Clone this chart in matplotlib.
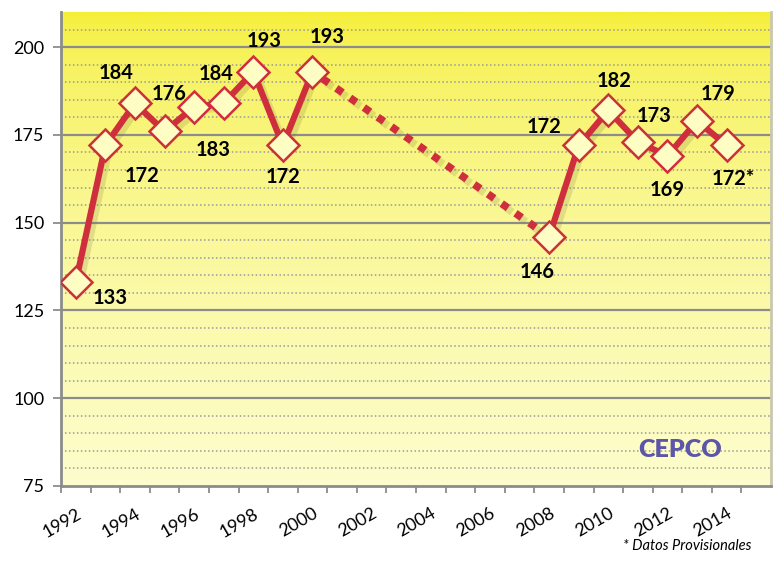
import numpy as np
import matplotlib.pyplot as plt
import matplotlib.patheffects as pe

# datos
years = list(range(1992, 2016))
year_labels = [str(y) if y % 2 == 0 else '' for y in years]
pts_a_years = [1992, 1993, 1994, 1995, 1996, 1997, 1998, 1999, 2000]
pts_a_vals = [133, 172, 184, 176, 183, 184, 193, 172, 193]
pts_b_years = [2008, 2009, 2010, 2011, 2012, 2013, 2014]
pts_b_vals = [146, 172, 182, 173, 169, 179, 172]
labels_a = ['133', '172', '184', '176', '183', '184', '193', '172', '193']
labels_b = ['146', '172', '182', '173', '169', '179', '172*']

# desplazamiento de etiquetas (pixeles)
off_a = [(34, -16), (37, -31), (-19, 30), (5, 37), (19, -43), (-8, 29), (11, 31), (0, -32), (15, 35)]
off_b = [(-12, -35), (-35, 18), (6, 29), (16, 26), (0, -34), (21, 27), (7, -34)]

RED = '#cf2f3d'
FACE = '#fefec4'

plt.rcParams['font.family'] = ['Lato', 'DejaVu Sans']

fig = plt.figure(figsize=(7.76, 5.63), dpi=100)
ax = fig.add_axes([0.0786, 0.1368, 0.9150, 0.8419])

xa = [years.index(y) for y in pts_a_years]
xb = [years.index(y) for y in pts_b_years]

# fondo degradado amarillo
t = np.linspace(0, 1, 256)[:, None, None] ** 0.55
top = np.array([245, 238, 50]) / 255
bot = np.array([253, 253, 205]) / 255
img = top * (1 - t) + bot * t
ax.imshow(img, extent=[-0.5, len(years) - 0.5, 75, 210], aspect='auto', zorder=0,
          interpolation='bilinear')

ax.set_xlim(-0.5, len(years) - 0.5)
ax.set_ylim(75, 210)

# rejilla
for v in range(80, 210, 5):
    if v % 25:
        ax.axhline(v, color='#9a9a9a', lw=1.1, ls=(0, (1, 1.6)), zorder=1)
for v in range(100, 225, 25):
    ax.axhline(v, color='#8c8c8c', lw=1.6, zorder=1)

shadow = [pe.SimpleLineShadow(offset=(3, -3), shadow_color='#7a7a40', alpha=0.2), pe.Normal()]

# tramo discontinuo 2000-2008
ax.plot([xa[-1], xb[0]], [pts_a_vals[-1], pts_b_vals[0]], color=RED, lw=5.5,
        ls=(0.6, (1.0, 1.2)), dash_capstyle='butt', zorder=3, path_effects=shadow)

for xs, vs in [(xa, pts_a_vals), (xb, pts_b_vals)]:
    ax.plot(xs, vs, color=RED, lw=4.5, zorder=4, solid_joinstyle='round', path_effects=shadow)
    ax.plot(xs, vs, ls='none', marker='D', ms=16.5, mfc=FACE, mec=RED, mew=1.8, zorder=5)

for xs, vs, labs, offs in [(xa, pts_a_vals, labels_a, off_a), (xb, pts_b_vals, labels_b, off_b)]:
    for x, v, s, o in zip(xs, vs, labs, offs):
        ax.annotate(s, (x, v), xytext=o, textcoords='offset pixels', ha='center', va='center',
                    fontsize=14.5, fontweight='bold', color='black', zorder=6)

# ejes
ax.set_yticks(range(75, 225, 25))
ax.set_yticklabels([str(v) for v in range(75, 225, 25)], fontsize=13)
ax.set_xticks(np.arange(len(years)) - 0.5, minor=True)
ax.set_xticks(np.arange(len(years)))
ax.set_xticklabels(year_labels, rotation=30, ha='right', rotation_mode='anchor', fontsize=13)
ax.tick_params(axis='x', which='major', length=0, pad=14)
ax.tick_params(axis='x', which='minor', length=5, width=1.3, color='#8c8c8c')
ax.tick_params(axis='y', length=6, width=1.3, color='#8c8c8c', pad=6)
for s in ['left', 'bottom']:
    ax.spines[s].set_color('#8c8c8c')
    ax.spines[s].set_linewidth(2)
ax.spines['top'].set_visible(False)
ax.spines['right'].set_color('#c8c8b0')
ax.spines['right'].set_linewidth(2)

# logo
ax.text(0.872, 0.075, 'CEPCO', transform=ax.transAxes, ha='center', va='center',
        fontsize=18, fontweight='heavy', color='#5c56a8', zorder=6)

fig.text(0.968, 0.018, '* Datos Provisionales', ha='right', va='bottom', fontsize=10.5,
         style='italic', color='black')

fig.savefig('out.png', dpi=100)
